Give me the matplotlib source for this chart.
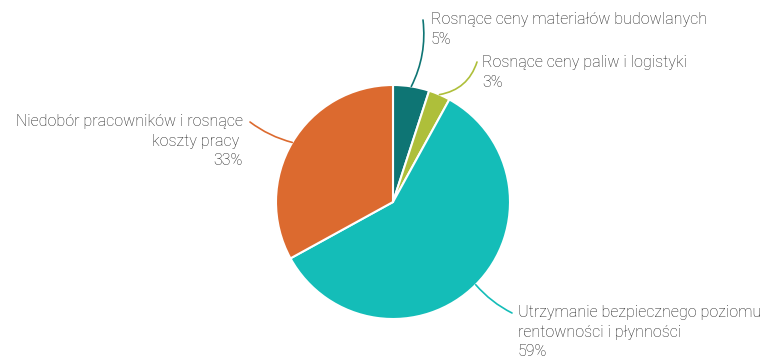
import matplotlib
matplotlib.use("Agg")
import matplotlib.pyplot as plt
import numpy as np

labels = [
    "Rosnące ceny materiałów budowlanych",
    "Rosnące ceny paliw i logistyki",
    "Utrzymanie bezpiecznego poziomu\nrentowności i płynności",
    "Niedobór pracowników i rosnące\nkoszty pracy ",
]
shares = [5, 3, 59, 33]
colors = ["#0e7574", "#aebf3a", "#14bdb8", "#dc6a2f"]

W, H = 769, 361
fig = plt.figure(figsize=(W / 100, H / 100), dpi=100)
ax = fig.add_axes([0, 0, 1, 1])

cx, cy, r = 393, 159, 117
wedges, _ = ax.pie(shares, colors=colors, startangle=90, counterclock=False,
                   center=(cx, cy), radius=r, frame=True,
                   wedgeprops=dict(edgecolor="white", linewidth=1.5))
ax.set_xlim(0, W)
ax.set_ylim(0, H)
ax.set_aspect("equal")
ax.axis("off")

font = dict(family="Roboto", weight="light", fontsize=11.5, color="#1e1e1e",
            linespacing=1.38)

# label anchor (text x, first line top), connector end, alignment, curvature
label_pos = [
    ((431, 361 - 12), (423, 361 - 20), "left", -0.15),
    ((482, 361 - 55), (477, 361 - 62), "left", -0.3),
    ((518, 361 - 305), (512, 361 - 313), "left", -0.1),
    ((243, 361 - 114), (250, 361 - 122), "right", 0.1),
]

for w, lab, s, (tpos, end, ha, rad) in zip(wedges, labels, shares, label_pos):
    ang = np.deg2rad((w.theta1 + w.theta2) / 2)
    px, py = cx + r * np.cos(ang), cy + r * np.sin(ang)
    ax.annotate("", xy=(px, py), xytext=end,
                arrowprops=dict(arrowstyle="-", color=w.get_facecolor(), lw=1.2,
                                shrinkA=0, shrinkB=0,
                                connectionstyle=f"arc3,rad={rad}"))
    ax.text(tpos[0], tpos[1], f"{lab}\n{s}%", ha=ha, va="top",
            multialignment=ha, **font)

fig.savefig("out.png", dpi=100)
